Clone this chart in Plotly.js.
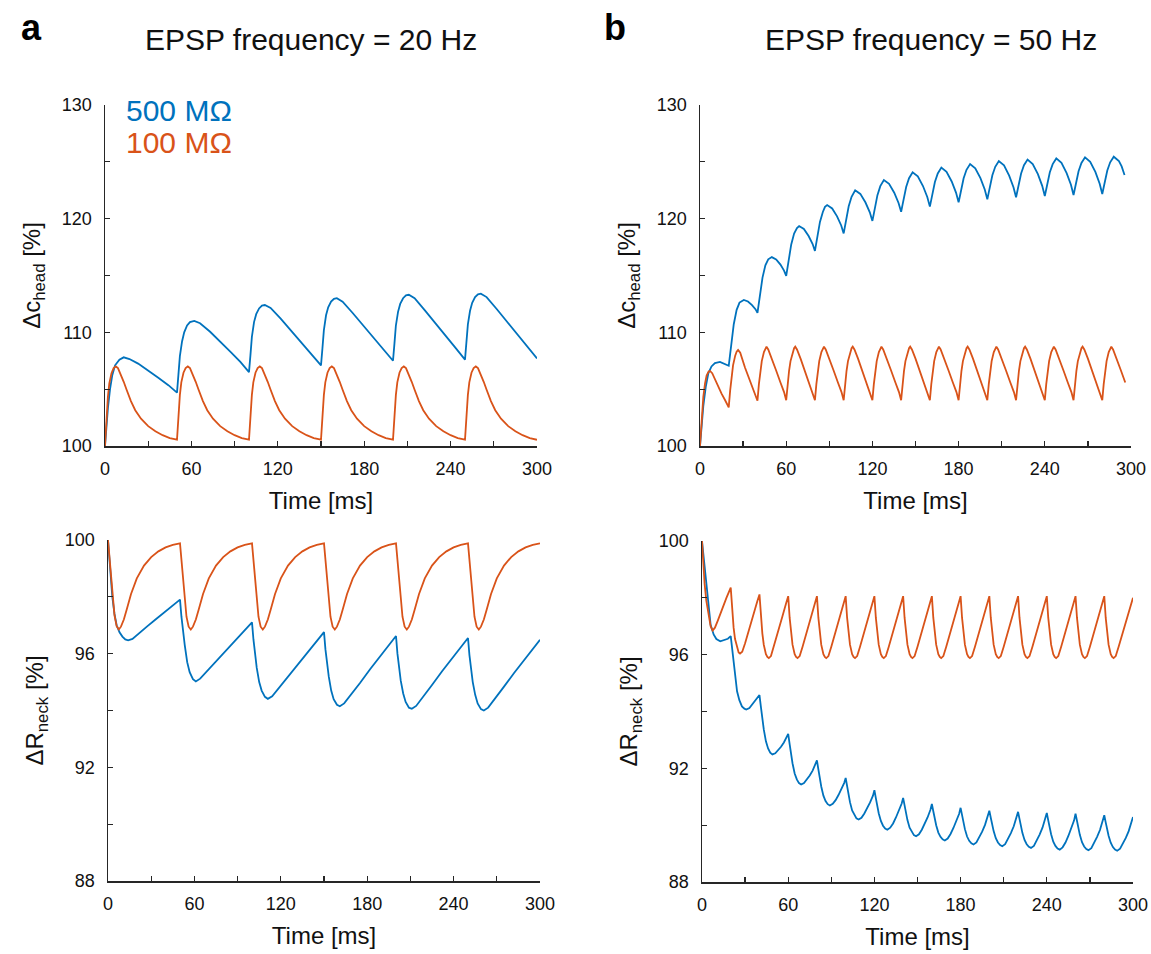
<!DOCTYPE html>
<html>
<head>
<meta charset="utf-8">
<script src="https://cdn.plot.ly/plotly-3.0.1.min.js"></script>
<style>html,body{margin:0;padding:0;background:#fff}#chart{width:1151px;height:954px}</style>
</head>
<body>
<div id="chart"></div>
<script>
// ---------- Panel a (20 Hz), spine head concentration ----------
const timeA_head500 = [0,1,2,3.5,5,7,10,13,17,23,30,37,44,50,
  51,52,53.5,55,57,59,62,66,73,80,87,94,100,
  101,102,103.5,105,107,109,111,115,122,129,136,143,150,
  151,152,153.5,155,157,159,161,165,172,179,186,193,200,
  201,202,203.5,205,207,209,211,215,222,229,236,243,250,
  251,252,253.5,255,257,259,261,265,272,279,286,293,300];
const headA_500 = [100,101.8,103.3,105.0,106.2,107.1,107.6,107.8,107.65,107.25,106.65,106.0,105.35,104.7,
  106.3,107.9,109.2,110.0,110.6,110.9,111.0,110.8,110.05,109.2,108.3,107.4,106.5,
  108.0,109.6,110.9,111.6,112.1,112.35,112.4,112.15,111.2,110.2,109.2,108.15,107.1,
  108.6,110.2,111.5,112.2,112.7,112.95,113.0,112.7,111.7,110.65,109.6,108.55,107.5,
  109.0,110.6,111.8,112.5,113.0,113.25,113.3,113.0,111.95,110.9,109.8,108.7,107.6,
  109.1,110.7,111.9,112.6,113.1,113.35,113.4,113.1,112.05,110.95,109.85,108.75,107.7];

const timeA_head100 = [0,1,2,3,4.5,6,7.5,9,11,13,15,18,21,25,30,35,40,45,50,
  51,52,53,54.5,56,57.5,59,61,63,65,68,71,75,80,85,90,95,100,
  101,102,103,104.5,106,107.5,109,111,113,115,118,121,125,130,135,140,145,150,
  151,152,153,154.5,156,157.5,159,161,163,165,168,171,175,180,185,190,195,200,
  201,202,203,204.5,206,207.5,209,211,213,215,218,221,225,230,235,240,245,250,
  251,252,253,254.5,256,257.5,259,261,263,265,268,271,275,280,285,290,295,300];
const headA_100 = [100,102.5,104.3,105.5,106.4,106.85,107.0,106.85,106.3,105.65,104.95,103.95,103.15,102.4,101.75,101.3,100.95,100.7,100.55,
  102.8,104.5,105.6,106.45,106.85,107.0,106.85,106.3,105.65,104.95,103.95,103.15,102.4,101.75,101.3,100.95,100.7,100.55,
  102.8,104.5,105.6,106.45,106.85,107.0,106.85,106.3,105.65,104.95,103.95,103.15,102.4,101.75,101.3,100.95,100.7,100.55,
  102.8,104.5,105.6,106.45,106.85,107.0,106.85,106.3,105.65,104.95,103.95,103.15,102.4,101.75,101.3,100.95,100.7,100.55,
  102.8,104.5,105.6,106.45,106.85,107.0,106.85,106.3,105.65,104.95,103.95,103.15,102.4,101.75,101.3,100.95,100.7,100.55,
  102.8,104.5,105.6,106.45,106.85,107.0,106.85,106.3,105.65,104.95,103.95,103.15,102.4,101.75,101.3,100.95,100.7,100.55];

// ---------- Panel a (20 Hz), neck resistance ----------
const timeA_neck500 = [0,1,2,3,4.5,6,8,10,12,14,17,21,27,33,39,45,50,
  51,52,53.3,55,56.7,59,61,64,68,75,82,89,95,100,
  101,102,103.3,105,106.7,109,111,114,118,125,132,139,145,150,
  151,152,153.3,155,156.7,159,161,164,168,175,182,189,195,200,
  201,202,203.3,205,206.7,209,211,214,218,225,232,239,245,250,
  251,252,253.3,255,256.7,259,261,264,268,275,282,289,295,300];
const neckA_500 = [100,99.3,98.6,98.0,97.4,97.0,96.75,96.6,96.5,96.47,96.52,96.68,96.95,97.2,97.45,97.7,97.9,
  97.3,96.8,96.3,95.7,95.35,95.1,95.02,95.12,95.34,95.73,96.11,96.5,96.83,97.1,
  96.5,96.0,95.5,95.0,94.7,94.48,94.41,94.5,94.75,95.19,95.63,96.07,96.45,96.76,
  96.15,95.65,95.2,94.7,94.4,94.2,94.15,94.25,94.5,94.97,95.45,95.9,96.28,96.62,
  96.0,95.5,95.05,94.6,94.3,94.1,94.06,94.16,94.42,94.9,95.38,95.85,96.22,96.55,
  95.95,95.45,95.0,94.55,94.25,94.05,94.0,94.1,94.36,94.84,95.32,95.79,96.16,96.49];

const timeA_neck100 = [0,1,2,3,4.5,6,7.5,9,11,13,16,20,25,30,35,40,45,50,
  51,52,53,54.5,56,57.5,59,61,63,66,70,75,80,85,90,95,100,
  101,102,103,104.5,106,107.5,109,111,113,116,120,125,130,135,140,145,150,
  151,152,153,154.5,156,157.5,159,161,163,166,170,175,180,185,190,195,200,
  201,202,203,204.5,206,207.5,209,211,213,216,220,225,230,235,240,245,250,
  251,252,253,254.5,256,257.5,259,261,263,266,270,275,280,285,290,295,300];
const neckA_100 = [100,99.35,98.7,98.05,97.35,96.97,96.85,96.95,97.2,97.55,98.1,98.65,99.1,99.4,99.6,99.74,99.83,99.88,
  99.3,98.65,98.0,97.3,96.95,96.85,96.95,97.2,97.55,98.1,98.65,99.1,99.4,99.6,99.74,99.83,99.88,
  99.3,98.65,98.0,97.3,96.95,96.85,96.95,97.2,97.55,98.1,98.65,99.1,99.4,99.6,99.74,99.83,99.88,
  99.3,98.65,98.0,97.3,96.95,96.85,96.95,97.2,97.55,98.1,98.65,99.1,99.4,99.6,99.74,99.83,99.88,
  99.3,98.65,98.0,97.3,96.95,96.85,96.95,97.2,97.55,98.1,98.65,99.1,99.4,99.6,99.74,99.83,99.88,
  99.3,98.65,98.0,97.3,96.95,96.85,96.95,97.2,97.55,98.1,98.65,99.1,99.4,99.6,99.74,99.83,99.88];

// ---------- Panel b (50 Hz), spine head concentration ----------
const timeB_head500 = [0,1,2.3,4,5.8,8,10.4,13.9,17,20,
  21,22,23.5,25.5,27.5,30.5,33.4,36.2,38.6,40,
  41,42,43.5,45.5,47.5,50,53,56,58.5,60,
  61,62,63.5,65.5,67.5,69,72.3,75.6,78.4,80,
  81,82,83.5,85.5,87,88.5,92,95.4,98.3,100,
  101,102,103.5,105.5,107,108,111.6,115.2,118.2,120,
  121,122,123.5,125.5,127,128,131.6,135.2,138.2,140,
  141,142,143.5,145.5,147,148,151.6,155.2,158.2,160,
  161,162,163.5,165.5,167,168,171.6,175.2,178.2,180,
  181,182,183.5,185.5,187,188,191.6,195.2,198.2,200,
  201,202,203.5,205.5,207,208,211.6,215.2,218.2,220,
  221,222,223.5,225.5,227,228,231.6,235.2,238.2,240,
  241,242,243.5,245.5,247,248,251.6,255.2,258.2,260,
  261,262,263.5,265.5,267,268,271.6,275.2,278.2,280,
  281,282,283.5,285.5,287,288,291.6,293.5,295.5];
const headB_500 = [100,101.8,103.5,105.2,106.4,107.0,107.3,107.4,107.25,107.06,
  108.10,109.32,110.71,111.98,112.62,112.85,112.71,112.40,112.04,111.72,
  112.60,113.63,114.81,115.89,116.42,116.62,116.42,115.96,115.43,114.97,
  115.76,116.68,117.73,118.69,119.17,119.35,119.09,118.47,117.77,117.16,
  117.89,118.74,119.71,120.59,121.04,121.2,120.9,120.2,119.4,118.7,
  119.38,120.18,121.09,121.93,122.35,122.5,122.18,121.42,120.56,119.8,
  120.45,121.2,122.07,122.86,123.26,123.4,123.06,122.28,121.38,120.6,
  121.23,121.96,122.79,123.56,123.94,124.08,123.72,122.87,121.91,121.06,
  121.68,122.40,123.22,123.98,124.35,124.49,124.12,123.27,122.29,121.44,
  122.04,122.75,123.56,124.30,124.67,124.8,124.43,123.56,122.57,121.7,
  122.31,123.01,123.82,124.56,124.94,125.07,124.69,123.79,122.77,121.88,
  122.48,123.17,123.97,124.70,125.07,125.2,124.81,123.92,122.89,121.99,
  122.59,123.28,124.08,124.80,125.17,125.3,124.91,124.01,122.98,122.08,
  122.68,123.37,124.17,124.90,125.27,125.4,125.01,124.11,123.07,122.17,
  122.76,123.45,124.24,124.96,125.32,125.45,125.06,124.6,123.84];

const timeB_head100 = [0,1,2.3,3.5,4.6,6,7,8.5,10.5,12.8,15,17.4,20,
  21,22,23,24.5,25.5,26.5,28,31.3,34,36,38.5,40,
  41,42,43,44.5,45.5,46.3,47.5,50,53,56,58.5,60,
  61,62,63,64.5,65.5,66.3,67.5,70,73,76,78.5,80,
  81,82,83,84.5,85.5,86.3,87.5,90,93,96,98.5,100,
  101,102,103,104.5,105.5,106.3,107.5,110,113,116,118.5,120,
  121,122,123,124.5,125.5,126.3,127.5,130,133,136,138.5,140,
  141,142,143,144.5,145.5,146.3,147.5,150,153,156,158.5,160,
  161,162,163,164.5,165.5,166.3,167.5,170,173,176,178.5,180,
  181,182,183,184.5,185.5,186.3,187.5,190,193,196,198.5,200,
  201,202,203,204.5,205.5,206.3,207.5,210,213,216,218.5,220,
  221,222,223,224.5,225.5,226.3,227.5,230,233,236,238.5,240,
  241,242,243,244.5,245.5,246.3,247.5,250,253,256,258.5,260,
  261,262,263,264.5,265.5,266.3,267.5,270,273,276,278.5,280,
  281,282,283,284.5,285.5,286.3,287.5,290,293,296];
const headB_100 = [100,102.3,104.3,105.5,106.2,106.55,106.6,106.4,105.8,105.2,104.6,104.05,103.4,
  104.9,106.2,107.1,107.95,108.3,108.45,108.2,106.9,106.0,105.3,104.5,103.98,
  105.44,106.62,107.47,108.27,108.6,108.74,108.49,107.69,106.64,105.59,104.74,104.03,
  105.44,106.62,107.47,108.27,108.6,108.74,108.49,107.69,106.64,105.59,104.74,104.03,
  105.44,106.62,107.47,108.27,108.6,108.74,108.49,107.69,106.64,105.59,104.74,104.03,
  105.44,106.62,107.47,108.27,108.6,108.74,108.49,107.69,106.64,105.59,104.74,104.03,
  105.44,106.62,107.47,108.27,108.6,108.74,108.49,107.69,106.64,105.59,104.74,104.03,
  105.44,106.62,107.47,108.27,108.6,108.74,108.49,107.69,106.64,105.59,104.74,104.03,
  105.44,106.62,107.47,108.27,108.6,108.74,108.49,107.69,106.64,105.59,104.74,104.03,
  105.44,106.62,107.47,108.27,108.6,108.74,108.49,107.69,106.64,105.59,104.74,104.03,
  105.44,106.62,107.47,108.27,108.6,108.74,108.49,107.69,106.64,105.59,104.74,104.03,
  105.44,106.62,107.47,108.27,108.6,108.74,108.49,107.69,106.64,105.59,104.74,104.03,
  105.44,106.62,107.47,108.27,108.6,108.74,108.49,107.69,106.64,105.59,104.74,104.03,
  105.44,106.62,107.47,108.27,108.6,108.74,108.49,107.69,106.64,105.59,104.74,104.03,
  105.44,106.62,107.47,108.27,108.6,108.74,108.49,107.69,106.64,105.59];

// ---------- Panel b (50 Hz), neck resistance ----------
const timeB_neck500 = [0,1,2.3,3.5,4.6,6,8.1,10,12.7,15,18,20,
  21,22,23,24.4,26,27.8,29.5,30.8,33,36,38,40,
  41,42,43,44.5,46,47.5,49,51,53,55,57,59,60,
  61,62,63,64.5,66,67.5,69,71,73,75,77,79,80,
  81,82,83,84.5,86,87.5,89,91,93,95,97,99,100,
  101,102,103,104.5,106,107.5,109,111,113,115,117,119,120,
  121,122,123,124.5,126,127.5,129,131,133,135,137,139,140,
  141,142,143,144.5,146,147.5,149,151,153,155,157,159,160,
  161,162,163,164.5,166,167.5,169,171,173,175,177,179,180,
  181,182,183,184.5,186,187.5,189,191,193,195,197,199,200,
  201,202,203,204.5,206,207.5,209,211,213,215,217,219,220,
  221,222,223,224.5,226,227.5,229,231,233,235,237,239,240,
  241,242,243,244.5,246,247.5,249,251,253,255,257,259,260,
  261,262,263,264.5,266,267.5,269,271,273,275,277,279,280,
  281,282,283,284.5,286,287.5,289,291,293,295,297,299,300];
const neckB_500 = [100,99.5,98.83,98.1,97.53,97.05,96.71,96.55,96.47,96.5,96.56,96.65,
  96.2,95.77,95.2,94.71,94.4,94.18,94.1,94.07,94.12,94.3,94.43,94.58,
  94.16,93.74,93.37,92.95,92.70,92.55,92.49,92.53,92.63,92.76,92.91,93.08,93.21,
  92.85,92.50,92.18,91.82,91.61,91.48,91.43,91.48,91.6,91.75,91.92,92.13,92.28,
  91.96,91.64,91.36,91.04,90.85,90.74,90.69,90.75,90.88,91.06,91.25,91.49,91.66,
  91.37,91.08,90.81,90.52,90.35,90.24,90.2,90.26,90.41,90.59,90.8,91.04,91.23,
  90.95,90.67,90.42,90.15,89.98,89.88,89.84,89.91,90.06,90.27,90.49,90.76,90.96,
  90.69,90.42,90.18,89.91,89.75,89.65,89.61,89.68,89.84,90.04,90.27,90.54,90.75,
  90.49,90.23,90.0,89.74,89.59,89.5,89.46,89.53,89.69,89.9,90.13,90.4,90.61,
  90.35,90.09,89.86,89.6,89.45,89.36,89.32,89.39,89.56,89.77,90.01,90.3,90.51,
  90.26,90.01,89.79,89.54,89.39,89.30,89.26,89.33,89.5,89.72,89.96,90.25,90.47,
  90.22,89.96,89.73,89.48,89.33,89.24,89.2,89.27,89.45,89.67,89.91,90.21,90.43,
  90.17,89.91,89.68,89.42,89.27,89.18,89.14,89.22,89.39,89.62,89.87,90.17,90.4,
  90.14,89.89,89.66,89.4,89.25,89.16,89.12,89.19,89.37,89.59,89.83,90.13,90.35,
  90.1,89.85,89.63,89.38,89.23,89.14,89.1,89.17,89.34,89.55,89.79,90.08,90.29];

const timeB_neck100 = [0,0.8,1.8,3,4.6,6,7.4,9,11,13.9,17,20,
  21,22,23,24.5,25.5,26.5,28,30,33,36,38.5,40,
  41,42,43,44.5,45.5,46.5,48,50,53,56,58.5,60,
  61,62,63,64.5,65.5,66.5,68,70,73,76,78.5,80,
  81,82,83,84.5,85.5,86.5,88,90,93,96,98.5,100,
  101,102,103,104.5,105.5,106.5,108,110,113,116,118.5,120,
  121,122,123,124.5,125.5,126.5,128,130,133,136,138.5,140,
  141,142,143,144.5,145.5,146.5,148,150,153,156,158.5,160,
  161,162,163,164.5,165.5,166.5,168,170,173,176,178.5,180,
  181,182,183,184.5,185.5,186.5,188,190,193,196,198.5,200,
  201,202,203,204.5,205.5,206.5,208,210,213,216,218.5,220,
  221,222,223,224.5,225.5,226.5,228,230,233,236,238.5,240,
  241,242,243,244.5,245.5,246.5,248,250,253,256,258.5,260,
  261,262,263,264.5,265.5,266.5,268,270,273,276,278.5,280,
  281,282,283,284.5,285.5,286.5,288,290,293,296,298.5,300];
const neckB_100 = [100,99.2,98.5,97.9,97.42,97.0,96.85,96.95,97.2,97.6,98.0,98.36,
  97.55,96.95,96.55,96.2,96.08,96.04,96.1,96.4,96.95,97.5,97.88,98.12,
  97.3,96.75,96.35,96.02,95.92,95.88,95.95,96.28,96.82,97.35,97.8,98.06,
  97.3,96.75,96.35,96.02,95.92,95.88,95.95,96.28,96.82,97.35,97.8,98.06,
  97.3,96.75,96.35,96.02,95.92,95.88,95.95,96.28,96.82,97.35,97.8,98.06,
  97.3,96.75,96.35,96.02,95.92,95.88,95.95,96.28,96.82,97.35,97.8,98.06,
  97.3,96.75,96.35,96.02,95.92,95.88,95.95,96.28,96.82,97.35,97.8,98.06,
  97.3,96.75,96.35,96.02,95.92,95.88,95.95,96.28,96.82,97.35,97.8,98.06,
  97.3,96.75,96.35,96.02,95.92,95.88,95.95,96.28,96.82,97.35,97.8,98.06,
  97.3,96.75,96.35,96.02,95.92,95.88,95.95,96.28,96.82,97.35,97.8,98.06,
  97.3,96.75,96.35,96.02,95.92,95.88,95.95,96.28,96.82,97.35,97.8,98.06,
  97.3,96.75,96.35,96.02,95.92,95.88,95.95,96.28,96.82,97.35,97.8,98.06,
  97.3,96.75,96.35,96.02,95.92,95.88,95.95,96.28,96.82,97.35,97.8,98.06,
  97.3,96.75,96.35,96.02,95.92,95.88,95.95,96.28,96.82,97.35,97.8,98.06,
  97.3,96.75,96.35,96.02,95.92,95.88,95.95,96.28,96.82,97.35,97.8,98.0];

// ---------- Labels & ticks ----------
const timeTicks = [0,60,120,180,240,300];
const headTicks = [100,110,120,130];
const neckTicks = [88,92,96,100];
const seriesNames = ['500 MΩ','100 MΩ'];
const panelTitles = ['EPSP frequency = 20 Hz','EPSP frequency = 50 Hz'];
const panelLetters = ['a','b'];

const BLUE = '#0072BD', RED = '#D95319', AX = '#262626';
const FONT = 'Liberation Sans, Arial, Helvetica, sans-serif';

function line(x, y, xa, ya, color, name) {
  return {x: x, y: y, xaxis: xa, yaxis: ya, type: 'scatter', mode: 'lines', name: name,
    line: {color: color, width: 1.8}, showlegend: false, hoverinfo: 'skip'};
}
const data = [
  line(timeA_head500, headA_500, 'x', 'y', BLUE, seriesNames[0]),
  line(timeA_head100, headA_100, 'x', 'y', RED, seriesNames[1]),
  line(timeB_head500, headB_500, 'x2', 'y2', BLUE, seriesNames[0]),
  line(timeB_head100, headB_100, 'x2', 'y2', RED, seriesNames[1]),
  line(timeA_neck500, neckA_500, 'x3', 'y3', BLUE, seriesNames[0]),
  line(timeA_neck100, neckA_100, 'x3', 'y3', RED, seriesNames[1]),
  line(timeB_neck500, neckB_500, 'x4', 'y4', BLUE, seriesNames[0]),
  line(timeB_neck100, neckB_100, 'x4', 'y4', RED, seriesNames[1])
];

function xax(domain, anchor) {
  return {domain: domain, anchor: anchor, range: [0, 300], tickmode: 'array',
    tickvals: timeTicks, ticks: 'inside', ticklen: 5, tickwidth: 1.3,
    tickcolor: AX, showline: true, linecolor: AX, linewidth: 1.5, showgrid: false, zeroline: false,
    minor: {tick0: 0, dtick: 30, ticks: 'inside', ticklen: 5, tickwidth: 1.3, tickcolor: AX, showgrid: false},
    tickfont: {size: 18, color: '#111', family: FONT}, ticklabelstandoff: 6,
    title: {text: 'Time [ms]', font: {size: 24, color: '#111', family: FONT}, standoff: 14}};
}
function yax(domain, anchor, range, tv, minorStep, title) {
  return {domain: domain, anchor: anchor, range: range, tickmode: 'array',
    tickvals: tv, ticks: 'inside', ticklen: 5, tickwidth: 1.3,
    tickcolor: AX, showline: true, linecolor: AX, linewidth: 1.5, showgrid: false, zeroline: false,
    minor: {tick0: range[0], dtick: minorStep, ticks: 'inside', ticklen: 5, tickwidth: 1.3, tickcolor: AX, showgrid: false},
    tickfont: {size: 18, color: '#111', family: FONT}, ticklabelstandoff: 8,
    title: {text: title, font: {size: 24, color: '#111', family: FONT}, standoff: 14}};
}

const W = 1151, H = 954;
const px = v => v / W, py = v => 1 - v / H;

const layout = {
  width: W, height: H, margin: {l: 0, r: 0, t: 0, b: 0},
  paper_bgcolor: '#fff', plot_bgcolor: '#fff',
  font: {family: FONT, color: '#111'},
  xaxis: xax([px(105), px(537)], 'y'),
  yaxis: yax([py(446), py(105)], 'x', [100, 130], headTicks, 5, 'Δc<sub>head</sub> [%]'),
  xaxis2: xax([px(700), px(1131)], 'y2'),
  yaxis2: yax([py(446), py(105)], 'x2', [100, 130], headTicks, 5, 'Δc<sub>head</sub> [%]'),
  xaxis3: xax([px(108), px(540)], 'y3'),
  yaxis3: yax([py(881), py(540)], 'x3', [88, 100], neckTicks, 2, 'ΔR<sub>neck</sub> [%]'),
  xaxis4: xax([px(702), px(1133)], 'y4'),
  yaxis4: yax([py(882), py(541)], 'x4', [88, 100], neckTicks, 2, 'ΔR<sub>neck</sub> [%]'),
  annotations: [
    {text: '<b>' + panelLetters[0] + '</b>', x: px(31), y: py(28), xref: 'paper', yref: 'paper', showarrow: false,
      font: {size: 36, family: FONT, color: '#000'}, xanchor: 'center', yanchor: 'middle'},
    {text: '<b>' + panelLetters[1] + '</b>', x: px(615), y: py(28), xref: 'paper', yref: 'paper', showarrow: false,
      font: {size: 36, family: FONT, color: '#000'}, xanchor: 'center', yanchor: 'middle'},
    {text: panelTitles[0], x: px(311), y: py(40), xref: 'paper', yref: 'paper', showarrow: false,
      font: {size: 30, family: FONT, color: '#111'}, xanchor: 'center', yanchor: 'middle'},
    {text: panelTitles[1], x: px(931), y: py(40), xref: 'paper', yref: 'paper', showarrow: false,
      font: {size: 30, family: FONT, color: '#111'}, xanchor: 'center', yanchor: 'middle'},
    {text: seriesNames[0], x: px(124), y: py(111), xref: 'paper', yref: 'paper', showarrow: false,
      font: {size: 30, family: FONT, color: BLUE}, xanchor: 'left', yanchor: 'middle'},
    {text: seriesNames[1], x: px(124), y: py(142), xref: 'paper', yref: 'paper', showarrow: false,
      font: {size: 30, family: FONT, color: RED}, xanchor: 'left', yanchor: 'middle'}
  ]
};

Plotly.newPlot('chart', data, layout, {displayModeBar: false, staticPlot: true});
</script>
</body>
</html>
